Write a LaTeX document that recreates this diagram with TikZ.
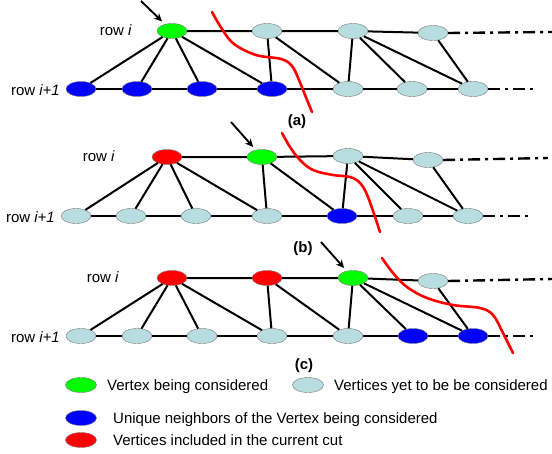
\documentclass[tikz,border=0pt]{standalone}
\usepackage{fontspec}
\setmainfont{Liberation Sans}
\usetikzlibrary{shapes.geometric,arrows.meta}

\definecolor{vgreen}{RGB}{0,255,0}
\definecolor{vblue}{RGB}{0,0,255}
\definecolor{vred}{RGB}{255,0,0}
\definecolor{vlblue}{RGB}{183,221,224}
\definecolor{vrim}{RGB}{120,120,120}

\begin{document}
\begin{tikzpicture}[x=1pt,y=-1pt,
  vtx/.style={ellipse, minimum width=30pt, minimum height=15pt, inner sep=0pt,
              draw=vrim, line width=0.4pt},
  cur/.style={vtx, fill=vgreen},
  todo/.style={vtx, fill=vlblue},
  uniq/.style={vtx, fill=vblue},
  incut/.style={vtx, fill=vred},
  link/.style={line width=2pt},
  cont/.style={line width=2.4pt, dash pattern=on 12pt off 5pt on 3pt off 5pt},
  cutline/.style={vred, line width=2.6pt, line cap=round},
  pointer/.style={-{Stealth[length=8pt,width=7.5pt]}, line width=1.9pt, shorten >=4pt},
  lbl/.style={font=\fontsize{15}{18}\selectfont, inner sep=0pt, text height=10.7pt, text depth=0pt},
  tag/.style={font=\bfseries\fontsize{15}{18}\selectfont, inner sep=0pt, text height=10.7pt, text depth=0pt}
]
\useasboundingbox (0,0) rectangle (552,453);

% ---------- panel (a) ----------
\node[cur]  (at1) at (172,31) {};
\node[todo] (at2) at (267,31) {};
\node[todo] (at3) at (353,31) {};
\node[todo] (at4) at (433,33) {};
\node[uniq] (ab1) at (81,89) {};
\node[uniq] (ab2) at (137,89) {};
\node[uniq] (ab3) at (202,89) {};
\node[uniq] (ab4) at (272,89) {};
\node[todo] (ab5) at (348,89) {};
\node[todo] (ab6) at (412,89) {};
\node[todo] (ab7) at (473,89) {};
\coordinate (aendt) at (552,32);
\coordinate (aendb) at (538,89);
\coordinate (aptr) at (141,1);

\draw[link] (at1) -- (at2) -- (at3) -- (at4);
\draw[link] (ab1) -- (ab2) -- (ab3) -- (ab4) -- (ab5) -- (ab6) -- (ab7);
\draw[link] (at1) -- (ab1) (at1) -- (ab2) (at1) -- (ab3) (at1) -- (ab4)
            (at2) -- (ab4) (at2) -- (ab5)
            (at3) -- (ab5) (at3) -- (ab6) (at3) -- (ab7)
            (at4) -- (ab7);
\draw[cont] (at4.east) -- (aendt);
\draw[cont] (ab7.east) -- (aendb);
\draw[pointer] (aptr) -- (at1);
\node[lbl, anchor=east] (arowi) at (132,30) {row \textit{i}};
\node[lbl, anchor=east] (arowj) at (60,90) {row \textit{i+1}};
\node[tag] (atag) at (297,120) {(a)};
\draw[cutline] plot[smooth, tension=0.6] coordinates
  {(212,12) (222,29) (234,44) (256,55) (281,59) (292,66) (299,80) (305,95) (312,112)};

% ---------- panel (b) ----------
\node[incut] (bt1) at (167,157) {};
\node[cur]   (bt2) at (262,157) {};
\node[todo]  (bt3) at (348,156) {};
\node[todo]  (bt4) at (428,160) {};
\node[todo]  (bb1) at (76,216) {};
\node[todo]  (bb2) at (131,216) {};
\node[todo]  (bb3) at (196,216) {};
\node[todo]  (bb4) at (267,216) {};
\node[uniq]  (bb5) at (342,216) {};
\node[todo]  (bb6) at (408,216) {};
\node[todo]  (bb7) at (468,216) {};
\coordinate (bendt) at (548,158);
\coordinate (bendb) at (533,216);
\coordinate (bptr) at (231,122);

\draw[link] (bt1) -- (bt2) -- (bt3) -- (bt4);
\draw[link] (bb1) -- (bb2) -- (bb3) -- (bb4) -- (bb5) -- (bb6) -- (bb7);
\draw[link] (bt1) -- (bb1) (bt1) -- (bb2) (bt1) -- (bb3) (bt1) -- (bb4)
            (bt2) -- (bb4) (bt2) -- (bb5)
            (bt3) -- (bb5) (bt3) -- (bb6) (bt3) -- (bb7)
            (bt4) -- (bb7);
\draw[cont] (bt4.east) -- (bendt);
\draw[cont] (bb7.east) -- (bendb);
\draw[pointer] (bptr) -- (bt2);
\node[lbl, anchor=east] (browi) at (115,156) {row \textit{i}};
\node[lbl, anchor=east] (browj) at (55,217) {row \textit{i+1}};
\node[tag] (btag) at (303,247) {(b)};
\draw[cutline] plot[smooth, tension=0.6] coordinates
  {(282,133) (290,147) (300,160) (313,170) (333,175) (350,177) (360,183) (368,197) (380,232)};

% ---------- panel (c) ----------
\node[incut] (ct1) at (172,278) {};
\node[incut] (ct2) at (267,278) {};
\node[cur]   (ct3) at (353,278) {};
\node[todo]  (ct4) at (433,281) {};
\node[todo]  (cb1) at (81,336) {};
\node[todo]  (cb2) at (137,336) {};
\node[todo]  (cb3) at (202,336) {};
\node[todo]  (cb4) at (272,336) {};
\node[todo]  (cb5) at (348,336) {};
\node[uniq]  (cb6) at (413,336) {};
\node[uniq]  (cb7) at (473,336) {};
\coordinate (cendt) at (552,279);
\coordinate (cendb) at (538,336);
\coordinate (cptr) at (321,242);

\draw[link] (ct1) -- (ct2) -- (ct3) -- (ct4);
\draw[link] (cb1) -- (cb2) -- (cb3) -- (cb4) -- (cb5) -- (cb6) -- (cb7);
\draw[link] (ct1) -- (cb1) (ct1) -- (cb2) (ct1) -- (cb3) (ct1) -- (cb4)
            (ct2) -- (cb4) (ct2) -- (cb5)
            (ct3) -- (cb5) (ct3) -- (cb6) (ct3) -- (cb7)
            (ct4) -- (cb7);
\draw[cont] (ct4.east) -- (cendt);
\draw[cont] (cb7.east) -- (cendb);
\draw[pointer] (cptr) -- (ct3);
\node[lbl, anchor=east] (crowi) at (119,277) {row \textit{i}};
\node[lbl, anchor=east] (crowj) at (60,337) {row \textit{i+1}};
\node[tag] (ctag) at (304,364) {(c)};
\draw[cutline] plot[smooth, tension=0.6] coordinates
  {(382,258) (393,273) (407,287) (427,298) (453,305) (480,308) (493,315) (503,333) (513,353)};

% ---------- legend ----------
\node[cur, minimum width=31pt]   (lg1) at (81,385) {};
\node[lbl, anchor=west] (lt1) at (107,385) {Vertex being considered};
\node[todo, minimum width=31pt]  (lg2) at (308,385) {};
\node[lbl, anchor=west] (lt2) at (334,385) {Vertices yet to be be considered};
\node[uniq, minimum width=31pt]  (lg3) at (81,418) {};
\node[lbl, anchor=west] (lt3) at (113,418) {Unique neighbors of the Vertex being considered};
\node[incut, minimum width=31pt] (lg4) at (81,440) {};
\node[lbl, anchor=west] (lt4) at (113,440) {Vertices included in the current cut};
\end{tikzpicture}
\end{document}
